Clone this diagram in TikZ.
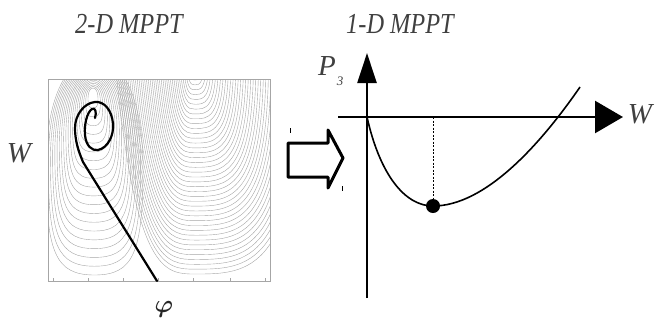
\documentclass[tikz,border=0pt]{standalone}
\usepackage{amsmath}
\usepackage{fontspec}
\usepackage{graphicx}
\setmainfont{Liberation Serif}
\usetikzlibrary{arrows.meta}

\newcommand{\narrow}[1]{\scalebox{0.84}[1]{#1}}

\begin{document}
\begin{tikzpicture}[
        x=1pt, y=-1pt,
        every node/.style={font=\fontsize{29}{29}\selectfont\itshape, text=black!75, inner sep=0pt},
        contour/.style={gray!70, line width=0.4pt},
        spiral/.style={line width=2.2pt, line cap=round, line join=round},
        axis/.style={line width=2.4pt},
        hollow/.style={line width=3pt, line join=round}
    ]

        \useasboundingbox (0,0) rectangle (655,325);

        % Titles
        \node (twod) at (129,24) {\narrow{2-D MPPT}};
        \node (oned) at (400,24) {\narrow{1-D MPPT}};

        % Contour map
        \begin{scope}
            \clip (48,79) rectangle (270,281);
            \foreach \k in {0,...,19}{
                \pgfmathsetmacro{\ls}{\k/19}
                \pgfmathsetmacro{\ltop}{88-30*\ls}
                \pgfmathsetmacro{\lbot}{108+167*\ls}
                \pgfmathsetmacro{\lleft}{88-42*\ls}
                \pgfmathsetmacro{\lright}{98+45*\ls}
                \pgfmathsetmacro{\lcx}{93+1.5*\ls}
                \pgfmathsetmacro{\lcy}{(\ltop+\lbot)/2}
                \pgfmathsetmacro{\lup}{\lcy-0.6*(\lcy-\ltop)}
                \pgfmathsetmacro{\ldn}{\lcy+0.8*(\lbot-\lcy)}
                \pgfmathsetmacro{\lul}{\lcx-0.6*(\lcx-\lleft)}
                \pgfmathsetmacro{\lur}{\lcx+0.6*(\lright-\lcx)}
                \pgfmathsetmacro{\ldl}{\lcx-0.8*(\lcx-\lleft)}
                \pgfmathsetmacro{\ldr}{\lcx+0.8*(\lright-\lcx)}
                \draw[contour] (\lleft,\lcy) .. controls (\lleft,\lup) and (\lul,\ltop) .. (\lcx,\ltop)
                    .. controls (\lur,\ltop) and (\lright,\lup) .. (\lright,\lcy)
                    .. controls (\lright,\ldn) and (\ldr,\lbot) .. (\lcx,\lbot)
                    .. controls (\ldl,\lbot) and (\lleft,\ldn) .. cycle;
            }
            \foreach \k in {0,...,40}{
                \pgfmathsetmacro{\us}{\k/40}
                \pgfmathsetmacro{\uv}{80+194*\us}
                \pgfmathsetmacro{\ul}{189-54*\us}
                \pgfmathsetmacro{\ur}{201+100*\us}
                \pgfmathsetmacro{\ulc}{195-0.5*(195-\ul)}
                \pgfmathsetmacro{\urc}{195+0.5*(\ur-195)}
                \pgfmathsetmacro{\ultop}{\ul-20*\us}
                \draw[contour] (\ultop,60) .. controls (\ul,\uv) and (\ulc,\uv) .. (195,\uv)
                    .. controls (\urc,\uv) and (\ur,\uv) .. (\ur,60);
            }
        \end{scope}
        \draw[gray!70, line width=0.5pt] (48,79) rectangle (270,281);
        \foreach \tx in {53,88,123,158,193,230,265}{
            \draw[gray!70, line width=0.4pt] (\tx,281) -- (\tx,278);
        }

        % Search path
        \draw[spiral] (95,118) .. controls (97,112) and (95,107) .. (92,109)
            .. controls (87,112) and (84,125) .. (85,135)
            .. controls (86,146) and (92,151) .. (98,150)
            .. controls (108,148) and (114,135) .. (113,124)
            .. controls (112,110) and (104,101) .. (95,102)
            .. controls (84,103) and (75,115) .. (75,128)
            .. controls (75,140) and (78,150) .. (83,162) -- (157,281);

        \node (wleft) at (19,153) {W};
        \node[font=\fontsize{34}{34}\selectfont, text=black!85] (phi) at (164,309) {$\boldsymbol{\varphi}$};

        % Hollow arrow
        \draw[hollow] (288,143) -- (328,143) -- (328,130) -- (343,158)
            -- (328,188) -- (328,177) -- (288,177) -- cycle;
        \draw[line width=0.6pt] (290,128) -- (290,133);
        \draw[line width=0.6pt] (342,186) -- (342,191);

        % 1-D curve
        \coordinate (O) at (367,117);
        \coordinate (ybot) at (367,298);
        \coordinate (ytop) at (367,53);
        \coordinate (xleft) at (338,117);
        \coordinate (xright) at (623,117);
        \coordinate (mpp) at (433,206);
        \coordinate (mppw) at (433,117);
        \coordinate (cend) at (580,87);

        \draw[axis, -{Triangle[length=30pt,width=19pt]}] (ybot) -- (ytop);
        \draw[axis, -{Triangle[length=28pt,width=32pt]}] (xleft) -- (xright);
        \draw[line width=0.6pt, dash pattern=on 2pt off 1.5pt] (mppw) -- (mpp);
        \draw[line width=1.6pt] (O) .. controls (380,175) and (405,206) .. (mpp)
            .. controls (485,206) and (540,145) .. (cend);
        \fill (mpp) circle (7pt);

        \node (plabel) at (327,66) {P};
        \node[font=\fontsize{13}{13}\selectfont\itshape] (psub) at (340,81) {3};
        \node (wright) at (640,114) {W};

    \end{tikzpicture}
\end{document}
